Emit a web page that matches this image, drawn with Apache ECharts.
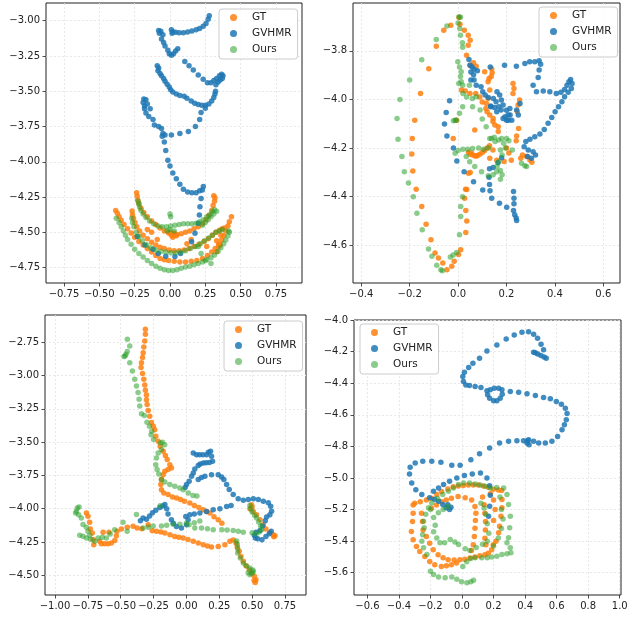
<!DOCTYPE html>
<html><head><meta charset="utf-8">
<script src="https://cdn.jsdelivr.net/npm/echarts@6/dist/echarts.min.js"></script>
<style>html,body{margin:0;padding:0;background:#fff}#c{width:634px;height:617px}</style>
</head><body><div id="c"></div>
<script>
// ---------- Panel 1 ----------
const gt1 = [[-0.236,-4.219],[-0.232,-4.245],[-0.228,-4.27],[-0.22,-4.295],[-0.205,-4.33],[-0.185,-4.36],[-0.16,-4.39],[-0.13,-4.42],[-0.1,-4.445],[-0.07,-4.47],[-0.04,-4.49],[-0.01,-4.505],[0.02,-4.515],[0.05,-4.515],[0.08,-4.51],[0.11,-4.5],[0.14,-4.49],[0.17,-4.475],[0.2,-4.46],[0.23,-4.44],[0.255,-4.41],[0.275,-4.38],[0.295,-4.345],[0.305,-4.31],[0.315,-4.28],[0.318,-4.255],[0.31,-4.24],
[-0.384,-4.346],[-0.372,-4.365],[-0.36,-4.39],[-0.345,-4.415],[-0.325,-4.445],[-0.3,-4.475],[-0.275,-4.505],[-0.25,-4.535],[-0.22,-4.565],[-0.19,-4.59],[-0.16,-4.615],[-0.13,-4.64],[-0.1,-4.665],[-0.07,-4.685],[-0.04,-4.695],[-0.01,-4.7],[0.03,-4.705],[0.07,-4.71],[0.11,-4.71],[0.15,-4.705],[0.19,-4.7],[0.23,-4.685],[0.265,-4.665],[0.295,-4.64],[0.32,-4.615],[0.345,-4.585],[0.365,-4.555],[0.38,-4.525],[0.395,-4.49],[0.41,-4.455],[0.42,-4.425],[0.435,-4.39],
[-0.268,-4.348],[-0.265,-4.375],[-0.258,-4.4],[-0.248,-4.43],[-0.235,-4.46],[-0.215,-4.49],[-0.19,-4.52],[-0.16,-4.545],[-0.13,-4.57],[-0.1,-4.59],[-0.07,-4.605],[-0.04,-4.615],[-0.005,-4.625],[0.03,-4.63],[0.065,-4.63],[0.1,-4.625],[0.135,-4.615],[0.17,-4.6],[0.205,-4.585],[0.24,-4.565],[0.27,-4.545],[0.3,-4.52],[0.325,-4.5],[0.35,-4.485],[0.37,-4.475],[0.385,-4.47],
[0.0,-4.5],[0.01,-4.52],[0.03,-4.505],[0.02,-4.535],[0.045,-4.525],[-0.13,-4.5],[-0.16,-4.48],[0.15,-4.55],[0.33,-4.56],[0.345,-4.6],[0.36,-4.52],[-0.09,-4.55],[0.12,-4.58],[0.26,-4.6],[0.354,-4.59],[0.33,-4.637]];
const gv1 = [[0.278,-2.965],[0.27,-2.99],[0.255,-3.02],[0.235,-3.04],[0.21,-3.055],[0.185,-3.065],[0.155,-3.073],[0.125,-3.08],[0.095,-3.085],[0.065,-3.085],[0.04,-3.082],[0.02,-3.078],[0.01,-3.065],[0.015,-3.09],
[-0.08,-3.07],[-0.065,-3.075],[-0.075,-3.09],[-0.05,-3.1],[-0.06,-3.13],[-0.045,-3.155],[-0.035,-3.18],[-0.015,-3.21],[-0.005,-3.235],[0.01,-3.245],[0.025,-3.235],[0.04,-3.215],[0.055,-3.2],
[0.105,-3.29],[0.135,-3.32],[0.165,-3.35],[0.2,-3.385],[0.235,-3.415],[0.265,-3.44],[0.29,-3.44],[0.31,-3.425],[0.33,-3.41],[0.35,-3.39],[0.365,-3.38],[0.375,-3.39],[0.37,-3.41],[0.355,-3.42],[0.34,-3.435],[0.325,-3.455],
[-0.09,-3.32],[-0.08,-3.335],[-0.085,-3.355],[-0.07,-3.375],[-0.06,-3.39],[-0.045,-3.41],[-0.035,-3.43],[-0.02,-3.45],[-0.005,-3.47],[0.005,-3.49],[0.02,-3.505],[0.045,-3.52],[0.07,-3.53],[0.1,-3.535],[0.12,-3.55],[0.15,-3.57],[0.175,-3.585],[0.2,-3.595],[0.225,-3.6],[0.25,-3.6],[0.275,-3.59],[0.295,-3.57],[0.31,-3.545],[0.318,-3.52],[0.322,-3.5],
[-0.185,-3.555],[-0.17,-3.56],[-0.19,-3.58],[-0.18,-3.605],[-0.16,-3.59],[-0.14,-3.625],[-0.18,-3.625],[-0.17,-3.655],[-0.15,-3.68],[-0.12,-3.7],[-0.11,-3.74],[-0.08,-3.75],[-0.06,-3.765],[-0.05,-3.8],[-0.055,-3.82],[-0.035,-3.81],[0.01,-3.81],[0.07,-3.8],[0.13,-3.785],[0.18,-3.75],[0.21,-3.7],[0.22,-3.65],[0.25,-3.62],
[-0.04,-3.86],[-0.03,-3.92],[-0.015,-3.99],[0.0,-4.03],[0.02,-4.08],[0.045,-4.12],[0.07,-4.16],[0.095,-4.195],[0.125,-4.215],[0.155,-4.22],[0.185,-4.22],[0.21,-4.205],[0.236,-4.176],[0.229,-4.2],[0.22,-4.26],[0.212,-4.318],[0.208,-4.377],[0.2,-4.436],[0.177,-4.507],[0.153,-4.566],
[-0.231,-4.53],[-0.177,-4.59],[-0.12,-4.62],[-0.083,-4.65],[-0.03,-4.67],[0.035,-4.672],[0.075,-4.65]];
const ours1 = [[-0.225,-4.28],[-0.22,-4.3],[-0.215,-4.32],[-0.205,-4.345],[-0.19,-4.37],[-0.17,-4.395],[-0.145,-4.42],[-0.115,-4.44],[-0.085,-4.455],[-0.055,-4.46],[-0.025,-4.46],[0.005,-4.455],[0.035,-4.45],[0.065,-4.445],[0.095,-4.44],[0.125,-4.44],[0.155,-4.44],[0.185,-4.435],[0.21,-4.425],[0.235,-4.41],[0.26,-4.39],[0.28,-4.375],[0.3,-4.355],[0.315,-4.34],[0.33,-4.35],
[0.0,-4.37],[0.005,-4.39],[0.0,-4.48],[-0.02,-4.49],[0.03,-4.49],
[-0.38,-4.4],[-0.36,-4.43],[-0.345,-4.46],[-0.33,-4.49],[-0.315,-4.52],[-0.3,-4.55],[-0.275,-4.585],[-0.25,-4.62],[-0.22,-4.65],[-0.19,-4.675],[-0.16,-4.7],[-0.13,-4.72],[-0.1,-4.74],[-0.07,-4.755],[-0.04,-4.765],[-0.01,-4.77],[0.02,-4.77],[0.05,-4.765],[0.08,-4.755],[0.11,-4.745],[0.14,-4.74],[0.17,-4.73],[0.2,-4.72],[0.23,-4.71],[0.26,-4.695],[0.29,-4.68],[0.315,-4.66],[0.34,-4.635],[0.36,-4.61],[0.38,-4.58],[0.395,-4.555],[0.41,-4.525],[0.42,-4.5],[0.415,-4.49],
[-0.27,-4.4],[-0.265,-4.43],[-0.255,-4.46],[-0.24,-4.5],[-0.22,-4.53],[-0.195,-4.56],[-0.165,-4.59],[-0.135,-4.61],[-0.1,-4.625],[-0.065,-4.635],[-0.03,-4.64],[0.005,-4.645],[0.04,-4.645],[0.075,-4.64],[0.11,-4.63],[0.145,-4.615],[0.18,-4.6],[0.215,-4.58],[0.245,-4.56],[0.275,-4.54],[0.3,-4.52],[0.325,-4.5],[0.35,-4.49],[0.37,-4.48],
[0.23,-4.45],[0.25,-4.43],[0.27,-4.41],[0.29,-4.39],[0.31,-4.37],[0.2,-4.6],[0.22,-4.65],[0.25,-4.7],[0.29,-4.72]];

// ---------- Panel 2 ----------
const gt2 = [[-0.03,-3.695],[-0.059,-3.715],[-0.09,-3.781],[-0.121,-3.873],[-0.155,-3.975],[-0.179,-4.085],[-0.189,-4.16],[-0.191,-4.224],[-0.187,-4.294],[-0.173,-4.369],[-0.15,-4.44],[-0.132,-4.513],[-0.112,-4.577],[-0.095,-4.632],[-0.081,-4.652],[-0.063,-4.673],[-0.046,-4.70],[-0.026,-4.686],[-0.016,-4.666],[0.002,-4.638],[0.011,-4.618],[0.032,-4.547],[0.036,-4.50],[0.032,-4.457],[0.027,-4.406],[0.031,-4.369],[0.043,-4.303],
[0.004,-3.663],[0.008,-3.69],[0.026,-3.715],[0.042,-3.736],[0.05,-3.756],[0.042,-3.777],[0.035,-3.818],[0.049,-3.859],[0.064,-3.849],[0.075,-3.863],
[0.014,-3.961],[0.03,-3.965],[0.049,-3.975],[0.073,-3.975],[0.09,-3.99],[0.1,-4.01],[0.11,-3.886],[0.128,-3.914],[0.124,-3.927],[0.131,-3.961],[0.124,-3.996],[0.117,-4.016],[0.115,-4.037],[0.12,-4.05],[0.131,-4.064],[0.145,-4.078],[0.152,-4.105],[0.166,-4.112],[0.139,-3.873],[0.141,-3.89],[0.137,-3.905],[0.069,-4.126],[-0.006,-4.085],[-0.02,-4.16],
[0.227,-3.934],[0.231,-3.955],[0.227,-3.975],[0.254,-4.002],[0.248,-4.023],[0.245,-4.05],[0.25,-4.119],[0.242,-4.15],[0.166,-4.132],[0.144,-4.091],[0.144,-4.208],[0.131,-4.242],[0.16,-4.25],[0.19,-4.255],[0.22,-4.25],[0.259,-4.242],[0.266,-4.228],[0.283,-4.235],[0.297,-4.249],[0.305,-4.258],[0.2,-4.2],[0.21,-4.22],[0.24,-4.17],
[0.043,-4.217],[0.05,-4.225],[0.06,-4.228],[0.07,-4.232],[0.08,-4.23],[0.09,-4.225],[0.1,-4.218],[0.11,-4.21],[0.12,-4.2],[0.13,-4.19],[0.056,-4.221],[0.076,-4.232],
[0.05,-4.3],[0.036,-4.37]];
const gv2 = [[-0.035,-4.005],[-0.049,-4.054],[-0.056,-4.101],[-0.046,-4.15],[-0.019,-4.2],[-0.005,-4.253],[0.025,-4.297],[0.064,-4.338],[0.102,-4.372],[0.132,-4.375],[0.13,-4.285],[0.128,-4.32],[0.13,-4.35],[0.139,-4.406],[0.171,-4.427],[0.201,-4.443],[0.229,-4.457],[0.234,-4.474],[0.24,-4.488],[0.242,-4.498],[0.231,-4.429],[0.231,-4.406],[0.229,-4.379],
[0.045,-3.835],[0.05,-3.859],[0.058,-3.866],[0.066,-3.876],[0.053,-3.887],[0.064,-3.898],[0.08,-3.882],[0.053,-3.92],[0.066,-3.92],[0.075,-3.941],[0.095,-3.948],[0.102,-3.968],[0.112,-3.982],[0.125,-3.992],[0.146,-3.996],[0.157,-4.009],[0.135,-4.027],[0.16,-4.05],[0.178,-4.043],[0.215,-4.064],[0.222,-4.085],[0.208,-4.085],[0.194,-4.071],[0.242,-4.043],[0.256,-4.016],[0.249,-4.064],[0.133,-3.866],
[0.161,-3.968],[0.172,-3.982],[0.179,-4.002],[0.186,-4.023],[0.2,-4.044],[0.207,-4.064],[0.2,-4.085],[0.186,-4.078],[0.214,-4.037],[0.135,-4.03],[0.15,-4.033],[0.168,-4.03],[0.18,-4.24],[0.165,-4.26],[0.145,-4.28],
[0.192,-3.859],[0.241,-3.863],[0.276,-3.852],[0.296,-3.845],[0.317,-3.845],[0.335,-3.841],[0.341,-3.855],[0.335,-3.879],[0.331,-3.909],[0.31,-3.941],[0.324,-3.968],[0.352,-3.965],[0.379,-3.968],[0.406,-3.975],[0.425,-3.97],[0.44,-3.959],[0.45,-3.941],[0.458,-3.927],[0.465,-3.918],[0.471,-3.934],[0.468,-3.955],[0.455,-3.97],[0.44,-3.989],[0.429,-4.009],[0.415,-4.03],[0.401,-4.05],[0.387,-4.074],[0.372,-4.098],[0.356,-4.123],[0.338,-4.142],[0.317,-4.153],[0.297,-4.164],[0.28,-4.173],[0.273,-4.194],[0.29,-4.208],[0.31,-4.215],[0.32,-4.228],[0.303,-4.242],[0.287,-4.235]];
const ours2 = [[0.004,-3.66],[0.01,-3.662],[0.0,-3.685],[0.007,-3.708],[0.01,-3.736],[0.018,-3.767],[0.019,-3.785],[-0.001,-3.845],[0.006,-3.866],[0.013,-3.886],[0.013,-3.927],[0.003,-3.934],[0.019,-3.941],[0.01,-3.905],
[-0.046,-3.698],[-0.09,-3.753],[-0.15,-3.836],[-0.2,-3.92],[-0.24,-4.0],[-0.252,-4.078],[-0.248,-4.164],[-0.232,-4.235],[-0.222,-4.297],[-0.205,-4.344],[-0.185,-4.4],[-0.17,-4.468],[-0.148,-4.536],[-0.122,-4.615],[-0.108,-4.645],[-0.088,-4.682],[-0.071,-4.70],[-0.065,-4.705],[-0.032,-4.648],[-0.02,-4.64],[-0.006,-4.63],[0.006,-4.556],[0.011,-4.481],[0.011,-4.44],[0.018,-4.4],
[-0.007,-4.085],[-0.019,-4.087],[-0.012,-4.085],[0.006,-4.057],[0.019,-4.03],[0.059,-3.996],[0.116,-4.112],[0.131,-4.16],[0.153,-4.173],
[-0.012,-4.221],[0.0,-4.21],[0.02,-4.205],[0.04,-4.205],[0.06,-4.202],[0.085,-4.2],[0.105,-4.205],[0.125,-4.2],[0.138,-4.16],[0.168,-4.167],[0.188,-4.18],[0.196,-4.2],[0.175,-4.208],[0.182,-4.228],[0.168,-4.256],[0.161,-4.276],[0.175,-4.292],[0.182,-4.31],[0.175,-4.328],[0.224,-4.208],[0.262,-4.262],[0.276,-4.273],[0.283,-4.276],[0.034,-4.235],[0.048,-4.256],[0.069,-4.276],[0.097,-4.297],[0.125,-4.314],[0.145,-4.31],[0.16,-4.297],[0.21,-4.17],[0.2,-4.16],[0.18,-4.16],[0.15,-4.155],
[0.02,-3.975],[0.035,-3.99],[0.047,-3.941],[0.06,-4.03],[0.075,-3.989],[0.091,-4.043],[0.1,-4.08]];

// ---------- Panel 3 ----------
const gt3 = [[-0.312,-2.652],[-0.312,-2.69],[-0.317,-2.74],[-0.324,-2.785],[-0.329,-2.828],[-0.334,-2.865],[-0.342,-2.903],[-0.345,-2.94],[-0.334,-2.985],[-0.324,-3.028],[-0.317,-3.07],[-0.312,-3.11],[-0.304,-3.146],[-0.304,-3.181],[-0.299,-3.218],[-0.291,-3.262],[-0.279,-3.306],[-0.266,-3.353],[-0.252,-3.38],[-0.241,-3.406],[-0.233,-3.456],[-0.215,-3.494],[-0.2,-3.53],[-0.177,-3.569],[-0.16,-3.6],[-0.146,-3.631],[-0.126,-3.669],[-0.114,-3.694],[-0.139,-3.706],[-0.164,-3.719],[-0.177,-3.744],[-0.19,-3.781],[-0.195,-3.819],[-0.19,-3.857],[-0.172,-3.882],[-0.139,-3.894],[-0.106,-3.912],[-0.075,-3.919],[-0.045,-3.93],[-0.015,-3.944],[0.026,-3.957],[0.06,-3.975],[0.095,-3.99],[0.128,-4.008],[0.155,-4.02],[0.179,-4.033],[0.21,-4.06],[0.242,-4.083],[0.27,-4.11],
[-0.761,-4.032],[-0.749,-4.057],[-0.736,-4.102],[-0.731,-4.152],[-0.716,-4.182],[-0.71,-4.232],[-0.705,-4.27],[-0.66,-4.245],[-0.647,-4.263],[-0.622,-4.263],[-0.596,-4.263],[-0.571,-4.258],[-0.545,-4.238],[-0.533,-4.203],[-0.528,-4.17],[-0.495,-4.152],[-0.45,-4.14],[-0.406,-4.132],[-0.375,-4.145],[-0.34,-4.15],[-0.291,-4.12],[-0.26,-4.165],[-0.228,-4.17],[-0.195,-4.175],[-0.164,-4.182],[-0.125,-4.195],[-0.089,-4.208],[-0.058,-4.214],[-0.025,-4.22],[0.012,-4.232],[0.052,-4.245],[0.09,-4.258],[0.128,-4.27],[0.16,-4.28],[0.191,-4.288],[0.242,-4.283],[0.293,-4.27],[0.331,-4.245],[0.356,-4.235],[0.377,-4.258],[0.387,-4.288],[0.402,-4.32],[0.415,-4.358],[0.433,-4.395],[0.453,-4.428],[0.478,-4.458],[0.496,-4.483],[0.517,-4.508],[0.529,-4.533],[0.524,-4.555],[0.515,-4.54],[-0.634,-4.177],[-0.589,-4.177],
[0.483,-4.0],[0.509,-4.02],[0.534,-4.045],[0.56,-4.083],[0.585,-4.12],[0.605,-4.153],[0.636,-4.178],[0.66,-4.195],[0.674,-4.203],[0.665,-4.21],[0.5,-3.985],[0.495,-3.97]];
const gv3 = [[0.052,-3.581],[0.077,-3.594],[0.1,-3.594],[0.125,-3.594],[0.153,-3.594],[0.167,-3.575],[0.184,-3.569],[0.191,-3.606],[0.199,-3.644],[0.175,-3.652],[0.15,-3.655],[0.128,-3.656],[0.105,-3.665],[0.09,-3.676],[0.064,-3.701],[0.052,-3.731],[0.039,-3.756],[0.021,-3.794],[0.001,-3.819],[-0.01,-3.84],[0.09,-3.781],[0.115,-3.765],[0.141,-3.756],[0.191,-3.744],[0.242,-3.744],[0.268,-3.761],[0.285,-3.781],[0.306,-3.819],[0.326,-3.856],[0.356,-3.894],[0.394,-3.926],[0.433,-3.936],[0.471,-3.931],[0.509,-3.926],[0.547,-3.931],[0.585,-3.944],[0.623,-3.956],[0.641,-3.981],[0.648,-4.019],[0.635,-4.045],[0.61,-4.063],[0.6,-4.09],[0.58,-4.13],[0.56,-4.163],[0.53,-4.176],[0.517,-4.2],[0.525,-4.22],[0.542,-4.226],[0.575,-4.233],[0.605,-4.208],[0.63,-4.188],[0.645,-4.17],
[-0.35,-4.09],[-0.33,-4.07],[-0.304,-4.08],[-0.28,-4.055],[-0.258,-4.03],[-0.233,-4.012],[-0.202,-3.99],[-0.18,-3.98],[-0.164,-3.969],[-0.15,-4.0],[-0.14,-4.04],[-0.114,-4.083],[-0.1,-4.11],[-0.076,-4.133],[-0.038,-4.145],[0.001,-4.12],[0.013,-4.083],[-0.005,-4.058],[0.026,-4.045],[0.06,-4.04],[0.102,-4.033],[0.153,-4.02],[0.204,-4.008],[0.255,-4.0],[0.306,-3.983],[0.34,-3.975]];
const ours3 = [[-0.449,-2.727],[-0.431,-2.778],[-0.45,-2.82],[-0.467,-2.853],[-0.475,-2.856],[-0.46,-2.84],[-0.431,-2.903],[-0.411,-2.965],[-0.393,-3.028],[-0.38,-3.078],[-0.368,-3.128],[-0.36,-3.178],[-0.355,-3.228],[-0.342,-3.286],[-0.32,-3.3],[-0.3,-3.35],[-0.281,-3.381],[-0.264,-3.419],[-0.269,-3.444],[-0.25,-3.48],[-0.198,-3.506],[-0.182,-3.5],[-0.165,-3.519],[-0.19,-3.556],[-0.215,-3.581],[-0.228,-3.619],[-0.233,-3.669],[-0.223,-3.706],[-0.21,-3.74],[-0.19,-3.781],[-0.164,-3.8],[-0.126,-3.819],[-0.088,-3.832],[-0.05,-3.844],[-0.024,-3.857],[0.014,-3.882],[0.05,-3.9],[0.08,-3.905],
[0.483,-3.975],[0.49,-4.0],[0.5,-4.025],[0.52,-4.05],[0.534,-4.07],[0.55,-4.1],[0.565,-4.13],[0.572,-4.158],[0.555,-4.175],[0.53,-4.19],[0.5,-4.18],[0.433,-4.176],[0.395,-4.17],[0.356,-4.163],[0.31,-4.16],[0.27,-4.158],[0.204,-4.158],[0.16,-4.15],[0.115,-4.145],[0.064,-4.145],[0.02,-4.12],
[0.382,-4.242],[0.387,-4.267],[0.39,-4.3],[0.39,-4.333],[0.41,-4.37],[0.433,-4.408],[0.458,-4.43],[0.483,-4.446],[0.509,-4.471],[0.483,-4.496],[0.47,-4.48],[0.5,-4.485],[0.505,-4.46],
[-0.837,-4.019],[-0.817,-3.987],[-0.83,-3.995],[-0.843,-4.032],[-0.82,-4.045],[-0.8,-4.069],[-0.787,-4.119],[-0.761,-4.139],[-0.749,-4.17],[-0.736,-4.2],[-0.787,-4.207],[-0.812,-4.2],[-0.761,-4.22],[-0.73,-4.23],[-0.698,-4.245],[-0.672,-4.22],[-0.64,-4.215],[-0.609,-4.22],[-0.58,-4.19],[-0.546,-4.158],[-0.482,-4.102],[-0.451,-4.17],[-0.38,-4.044],[-0.329,-4.145],[-0.29,-4.14],[-0.253,-4.13],[-0.2,-3.977],[-0.19,-4.13],[-0.15,-4.125],[-0.101,-4.117],[-0.05,-4.117],[0.0,-4.11],[0.06,-4.105],[0.102,-4.092]];

// ---------- Panel 4 ----------
const gt4 = [[-0.31,-5.171],[-0.3,-5.16],[-0.265,-5.15],[-0.226,-5.139],[-0.194,-5.128],[-0.16,-5.105],[-0.13,-5.086],[-0.09,-5.07],[-0.056,-5.055],[-0.024,-5.051],[0.008,-5.048],[0.04,-5.044],[0.071,-5.044],[0.103,-5.044],[0.135,-5.051],[0.166,-5.059],[0.198,-5.072],[0.23,-5.076],[0.251,-5.08],[0.253,-5.137],[0.253,-5.189],[0.247,-5.242],[0.238,-5.305],[0.232,-5.347],[0.215,-5.4],[0.198,-5.423],[0.188,-5.455],[0.166,-5.476],[0.145,-5.486],[0.113,-5.493],[0.082,-5.501],[0.05,-5.507],[0.018,-5.514],[-0.014,-5.518],[-0.035,-5.539],[-0.067,-5.55],[-0.099,-5.556],[-0.131,-5.56],[-0.173,-5.55],[-0.205,-5.529],[-0.236,-5.497],[-0.268,-5.465],[-0.289,-5.434],[-0.31,-5.392],[-0.321,-5.339],[-0.314,-5.276],[-0.31,-5.223],
[-0.257,-5.223],[-0.251,-5.276],[-0.247,-5.329],[-0.226,-5.371],[-0.205,-5.413],[-0.183,-5.455],[-0.152,-5.486],[-0.12,-5.505],[-0.088,-5.518],[-0.05,-5.52],
[-0.194,-5.192],[-0.162,-5.171],[-0.13,-5.15],[-0.1,-5.14],[-0.067,-5.128],[-0.025,-5.118],[0.02,-5.125],[0.061,-5.139],[0.082,-5.181],[0.088,-5.223],[0.085,-5.27],[0.082,-5.318],[0.078,-5.37],[0.071,-5.423],[0.06,-5.46],
[0.13,-5.12],[0.14,-5.17],[0.145,-5.223],[0.149,-5.276],[0.148,-5.33],[0.145,-5.381],[0.151,-5.423],[0.18,-5.1],[0.2,-5.14],[0.21,-5.2],[0.2,-5.27]];
const gv4 = [[0.534,-4.242],[0.52,-4.235],[0.5,-4.225],[0.48,-4.215],[0.465,-4.207],[0.454,-4.204],[0.517,-4.189],[0.501,-4.154],[0.479,-4.116],[0.454,-4.091],[0.422,-4.074],[0.38,-4.078],[0.331,-4.095],[0.28,-4.12],[0.221,-4.158],[0.158,-4.196],[0.111,-4.242],[0.069,-4.274],[0.042,-4.301],[0.015,-4.33],[0.005,-4.358],[0.009,-4.389],[0.024,-4.411],[0.047,-4.415],[0.083,-4.421],[0.12,-4.427],[0.158,-4.448],[0.162,-4.474],[0.175,-4.495],[0.2,-4.512],[0.221,-4.512],[0.242,-4.495],[0.255,-4.47],[0.253,-4.442],[0.232,-4.432],[0.204,-4.432],[0.179,-4.442],[0.306,-4.453],[0.359,-4.457],[0.412,-4.467],[0.465,-4.478],[0.517,-4.491],[0.56,-4.499],[0.598,-4.516],[0.63,-4.533],[0.655,-4.558],[0.666,-4.592],[0.661,-4.632],[0.649,-4.663],[0.634,-4.695],[0.606,-4.737],[0.57,-4.768],[0.528,-4.779],[0.486,-4.779],[0.454,-4.768],[0.422,-4.758],[0.412,-4.779],[0.425,-4.79],[0.415,-4.765],[0.39,-4.764],[0.348,-4.764],[0.295,-4.768],[0.238,-4.779],[0.175,-4.811],[0.111,-4.846],[0.056,-4.884],[-0.012,-4.92],[-0.065,-4.92],[-0.134,-4.901],[-0.192,-4.895],[-0.249,-4.895],[-0.297,-4.905],[-0.329,-4.933],[-0.333,-4.975],[-0.319,-5.032],[-0.293,-5.074],[-0.255,-5.105],[-0.206,-5.126],[-0.175,-5.135],[-0.149,-5.147],[-0.122,-5.168],[-0.101,-5.189],[-0.079,-5.2],[-0.07,-5.185],[-0.09,-5.17],[-0.181,-5.084],[-0.149,-5.063],[-0.117,-5.042],[-0.079,-5.021],[-0.033,-5.0],[0.015,-4.985],[0.065,-4.975],[0.117,-4.968],[0.158,-5.0],[0.175,-5.05],[0.179,-5.109],[0.175,-5.179],[0.168,-5.242]];
const ours4 = [[0.264,-5.063],[0.285,-5.105],[0.295,-5.168],[0.306,-5.242],[0.302,-5.316],[0.295,-5.379],[0.285,-5.41],[0.306,-5.442],[0.31,-5.474],[0.285,-5.48],[0.253,-5.484],[0.221,-5.495],[0.189,-5.501],[0.16,-5.505],[0.125,-5.505],[0.083,-5.505],[0.055,-5.51],[0.03,-5.53],[0.005,-5.56],
[-0.181,-5.611],[-0.149,-5.627],[-0.107,-5.632],[-0.065,-5.627],[-0.033,-5.642],[-0.003,-5.657],[0.031,-5.663],[0.056,-5.657],[0.073,-5.648],[-0.2,-5.59],
[-0.223,-5.484],[-0.244,-5.442],[-0.255,-5.4],[-0.25,-5.36],[-0.24,-5.316],[-0.244,-5.274],[-0.23,-5.23],[-0.213,-5.189],[-0.192,-5.158],[-0.155,-5.13],[-0.122,-5.105],[-0.086,-5.084],[-0.054,-5.063],[-0.022,-5.042],[0.01,-5.032],[0.048,-5.032],[0.083,-5.038],[0.115,-5.045],[0.147,-5.053],[0.179,-5.063],[0.22,-5.06],
[-0.18,-5.25],[-0.17,-5.3],[-0.18,-5.34],[-0.16,-5.38],[-0.14,-5.41],[-0.11,-5.41],[-0.075,-5.389],[-0.045,-5.405],[-0.022,-5.421],[0.02,-5.448],[0.05,-5.46],[0.09,-5.44],[0.13,-5.42],[0.16,-5.4],[0.17,-5.35],[0.16,-5.29],[0.15,-5.23],[0.14,-5.19],[0.12,-5.16],[-0.12,-5.2],[-0.15,-5.22],[-0.09,-5.18],[-0.2,-5.2],
[0.24,-5.12],[0.25,-5.2],[0.26,-5.26],[0.25,-5.32],[0.23,-5.38],[0.2,-5.43]];

// ---------- ticks ----------
const xTicks1 = [-0.75,-0.5,-0.25,0,0.25,0.5,0.75];
const yTicks1 = [-4.75,-4.5,-4.25,-4,-3.75,-3.5,-3.25,-3];
const xTicks2 = [-0.4,-0.2,0,0.2,0.4,0.6];
const yTicks2 = [-4.6,-4.4,-4.2,-4.0,-3.8];
const xTicks3 = [-1,-0.75,-0.5,-0.25,0,0.25,0.5,0.75];
const yTicks3 = [-4.5,-4.25,-4,-3.75,-3.5,-3.25,-3,-2.75];
const xTicks4 = [-0.6,-0.4,-0.2,0,0.2,0.4,0.6,0.8,1.0];
const yTicks4 = [-5.6,-5.4,-5.2,-5.0,-4.8,-4.6,-4.4,-4.2,-4.0];
const names = ['GT','GVHMR','Ours'];

const colors = ['#ff7f0e','#1f77b4','#2ca02c'];
const opac = [0.85,0.85,0.55];
const FONT = 'DejaVu Sans';

function fmt(v, d){ if (Math.abs(v) < 1e-9) v = 0; const s = v.toFixed(d); return s.replace('-', '\u2212'); }

const panels = [
  {grid:{left:46,top:3,width:256,height:280}, x:[-0.877,0.934], y:[-4.859,-2.875], xt:xTicks1, yt:yTicks1, d:2, data:[gt1,gv1,ours1], leg:{left:219,top:9}},
  {grid:{left:353,top:3,width:267,height:280}, x:[-0.434,0.669], y:[-4.755,-3.603], xt:xTicks2, yt:yTicks2, d:1, data:[gt2,gv2,ours2], leg:{left:539,top:7}},
  {grid:{left:45,top:315,width:261,height:280}, x:[-1.076,0.91], y:[-4.648,-2.545], xt:xTicks3, yt:yTicks3, d:2, data:[gt3,gv3,ours3], leg:{left:224,top:321}},
  {grid:{left:354,top:320,width:267,height:275}, x:[-0.685,1.008], y:[-5.741,-4.0], xt:xTicks4, yt:yTicks4, d:1, data:[gt4,gv4,ours4], leg:{left:360,top:324}}
];

function mkAxis(i, range, ticks, d, pos){
  return {
    type:'value', gridIndex:i, min:range[0], max:range[1], scale:true, position:pos,
    axisLine:{show:false, onZero:false},
    axisTick:{show:true, inside:false, length:3.5, customValues:ticks, lineStyle:{color:'#222', width:0.8}},
    axisLabel:{show:true, customValues:ticks, formatter:(v)=>fmt(v,d), fontSize:10, fontFamily:FONT, color:'#222', margin:6},
    splitLine:{show:true, lineStyle:{color:'#e2e2e2', width:0.8, type:[2,2]}}
  };
}

const grids=[], xAxes=[], yAxes=[], series=[], legends=[];
panels.forEach((p,i)=>{
  grids.push(Object.assign({show:true, borderColor:'#222', borderWidth:1, backgroundColor:'rgba(0,0,0,0)', containLabel:false}, p.grid));
  xAxes.push(mkAxis(i, p.x, p.xt, p.d, 'bottom'));
  yAxes.push(mkAxis(i, p.y, p.yt, p.d, 'left'));
  p.data.forEach((arr,k)=>{
    series.push({type:'scatter', name:names[k], xAxisIndex:i, yAxisIndex:i, data:arr, symbol:'circle', symbolSize:5.5,
      itemStyle:{color:colors[k], opacity:opac[k]}, silent:true, z:2+k});
  });
  legends.push({data:names, orient:'vertical', left:p.leg.left, top:p.leg.top, icon:'circle', itemWidth:7, itemHeight:7,
    itemGap:3, padding:[2,6,3,11], backgroundColor:'rgba(255,255,255,0.85)', borderColor:'#cccccc', borderWidth:1, borderRadius:3,
    selectedMode:false, textStyle:{fontSize:10.5, fontFamily:FONT, color:'#222', lineHeight:13, padding:[0,0,0,10]}});
});

const chart = echarts.init(document.getElementById('c'), null, {renderer:'canvas'});
chart.setOption({animation:false, backgroundColor:'#fff', grid:grids, xAxis:xAxes, yAxis:yAxes, series:series, legend:legends});
</script></body></html>
